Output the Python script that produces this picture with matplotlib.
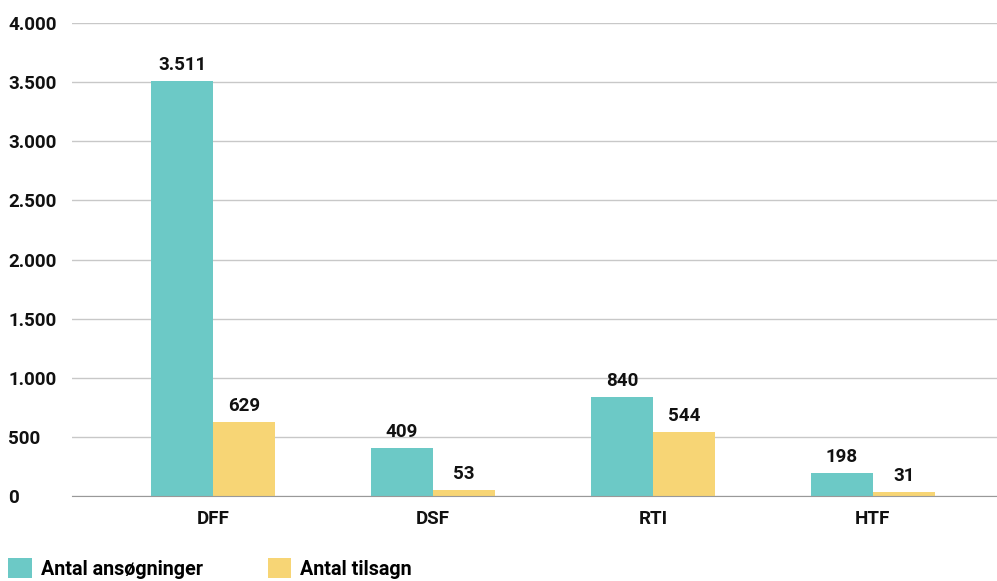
import matplotlib.pyplot as plt
from matplotlib.ticker import FuncFormatter

categories = ["DFF", "DSF", "RTI", "HTF"]
ansoegninger = [3511, 409, 840, 198]
tilsagn = [629, 53, 544, 31]
series_names = ["Antal ansøgninger", "Antal tilsagn"]

teal = "#6cc9c6"
yellow = "#f7d575"

plt.rcParams["font.family"] = ["Roboto", "DejaVu Sans"]
plt.rcParams["font.weight"] = "semibold"

fig = plt.figure(figsize=(9.97, 5.81), dpi=100)
ax = fig.add_axes([0.0722, 0.1463, 0.9278, 0.8141])

x = range(len(categories))
width = 0.282

b1 = ax.bar([i - width / 2 for i in x], ansoegninger, width, color=teal,
            label=series_names[0], zorder=3)
b2 = ax.bar([i + width / 2 for i in x], tilsagn, width, color=yellow,
            label=series_names[1], zorder=3)

for bars, vals in [(b1, ansoegninger), (b2, tilsagn)]:
    for bar, v in zip(bars, vals):
        ax.annotate(f"{v:,}".replace(",", "."),
                    (bar.get_x() + bar.get_width() / 2, bar.get_height()),
                    xytext=(0, 5), textcoords="offset points",
                    ha="center", va="bottom", fontsize=13.5, color="#111111")

ax.set_xlim(-0.641, 3.564)
ax.set_ylim(0, 4000)
ax.set_yticks(range(0, 4001, 500))
ax.yaxis.set_major_formatter(FuncFormatter(lambda v, p: f"{int(v):,}".replace(",", ".")))
ax.set_xticks(list(x))
ax.set_xticklabels(categories)

ax.grid(axis="y", color="#c8c8c8", linewidth=1, zorder=0)
for s in ["top", "right", "left"]:
    ax.spines[s].set_visible(False)
ax.spines["bottom"].set_color("#999999")
ax.spines["bottom"].set_zorder(4)

ax.tick_params(axis="both", length=0, labelsize=13.5, labelcolor="#111111")
ax.tick_params(axis="x", pad=10)
for lbl in ax.get_yticklabels():
    lbl.set_horizontalalignment("left")
ax.tick_params(axis="y", pad=46)

fig.legend(loc="upper left", bbox_to_anchor=(0.008, 1 - 558 / 581), ncol=2,
           frameon=False, fontsize=14.2, handlelength=1.2, handleheight=1.2,
           handletextpad=0.45, columnspacing=3.3, borderpad=0, borderaxespad=0)

fig.savefig("out.png", dpi=100)
